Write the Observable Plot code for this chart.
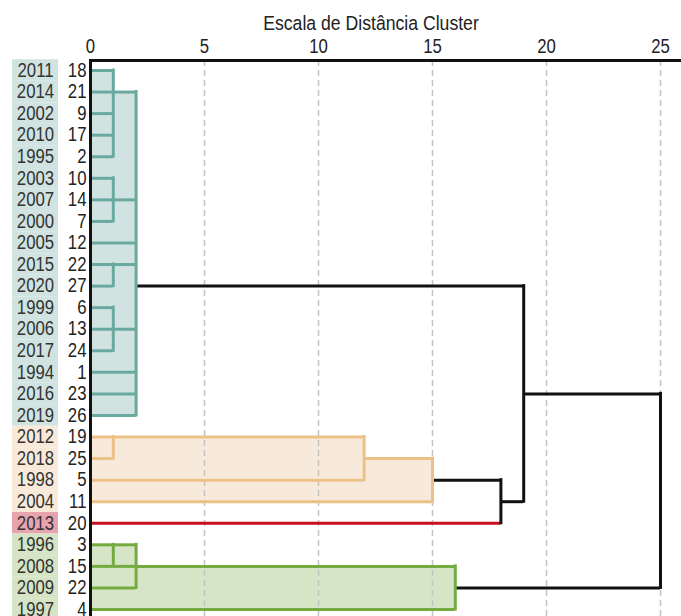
<!DOCTYPE html>
<html><head><meta charset="utf-8">
<script src="https://cdn.jsdelivr.net/npm/d3@7"></script>
<script src="https://cdn.jsdelivr.net/npm/@observablehq/plot@0.6"></script>
<style>
body{margin:0;background:#fff;}
#wrap{position:relative;width:681px;height:616px;display:flex;overflow:hidden;font-family:"Liberation Sans",Arial,sans-serif;}
#title{position:absolute;top:11px;left:0;width:742px;text-align:center;font-size:20.5px;color:#222;transform:scaleX(0.86);transform-origin:371px 50%;}
svg{display:block;}
</style></head><body>
<div id="wrap"><div id="title">Escala de Distância Cluster</div></div>
<script>
// Leaves (top to bottom)
const years = ["2011","2014","2002","2010","1995","2003","2007","2000","2005","2015","2020","1999","2006","2017","1994","2016","2019","2012","2018","1998","2004","2013","1996","2008","2009","1997"];
const caseNums = [18,21,9,17,2,10,14,7,12,22,27,6,13,24,1,23,26,19,25,5,11,20,3,15,22,4];
const groups = ["t","t","t","t","t","t","t","t","t","t","t","t","t","t","t","t","t","o","o","o","o","r","g","g","g","g"];
const tickValues = [0,5,10,15,20,25];

// Merges: distance, group, children as [row year, distance the child line starts from]
const mergeDist  = [1,1,1,1,2, 1,12,15, 18, 1,2,16, 19, 25];
const mergeGroup = ["t","t","t","t","t","o","o","o","k","g","g","g","k","k"];
const mergeChildren = [
  [["2011",0],["2014",0],["2002",0],["2010",0],["1995",0]],
  [["2003",0],["2007",0],["2000",0]],
  [["2015",0],["2020",0]],
  [["1999",0],["2006",0],["2017",0]],
  [["2014",1],["2007",1],["2005",0],["2015",1],["2006",1],["1994",0],["2016",0],["2019",0]],
  [["2012",0],["2018",0]],
  [["2012",1],["1998",0]],
  [["2018",12],["2004",0]],
  [["1998",15],["2013",0]],
  [["1996",0],["2008",0]],
  [["1996",1],["2008",1],["2009",0]],
  [["2008",2],["1997",0]],
  [["2020",2],["2004",18]],
  [["2016",19],["2009",16]]
];

const lineColor = {t:"#6aa99f", o:"#ecc188", g:"#74ab41", r:"#c80f1e", k:"#111"};
const fillColor = {t:"#d0e3e0", o:"#f8eadb", g:"#d6e5c6"};
const labelBg   = {t:"#d0e3e0", o:"#f8e9d9", r:"#e7a4ae", g:"#d5e4c4"};

const rowIndex = new Map(years.map((y, i) => [y, i]));
const rows = years.map((y, i) => ({year: y, num: caseNums[i], group: groups[i], i}));
const merges = mergeDist.map((d, k) => {
  const r = mergeChildren[k].map(([y]) => rowIndex.get(y));
  return {d, group: mergeGroup[k], top: d3.min(r), bottom: d3.max(r)};
});
const hSegs = mergeChildren.flatMap((ch, k) => ch.map(([y, from]) => {
  const i = rowIndex.get(y);
  const g = mergeGroup[k] !== "k" ? mergeGroup[k] : (from === 0 ? groups[i] : "k");
  return {y: i, x1: from, x2: mergeDist[k], group: g};
}));

const yScale = {domain: [0, years.length - 1], reverse: true, insetTop: 10, insetBottom: 7, axis: null};
const font = '"Liberation Sans",Arial,sans-serif';

const left = Plot.plot({
  width: 58, height: 616, marginLeft: 12, marginRight: 0, marginTop: 60, marginBottom: 0,
  style: {fontFamily: font, background: "transparent"},
  x: {type: "band", domain: ["year"], padding: 0, axis: null},
  y: yScale,
  color: {type: "identity"},
  marks: [
    Plot.barY(rows, {x: () => "year", y1: d => d.i - 0.5, y2: d => d.i + 0.5, fill: d => labelBg[d.group]}),
    Plot.text(rows, {x: () => "year", y: "i", text: "year", fontSize: 19.5, fill: "#333"})
  ]
});

const main = Plot.plot({
  width: 623, height: 616, marginLeft: 32, marginRight: 0, marginTop: 60, marginBottom: 0,
  style: {fontFamily: font, fontSize: "19px", color: "#222", background: "transparent"},
  x: {domain: [0, 25], insetRight: 21, axis: null},
  y: yScale,
  color: {type: "identity"},
  marks: [
    Plot.rect(merges.filter(m => m.group !== "k"), {x1: 0, x2: "d", y1: "top", y2: "bottom", fill: d => fillColor[d.group]}),
    Plot.ruleX(tickValues.filter(v => v > 0), {stroke: "#c4c4c4", strokeWidth: 1.5, strokeDasharray: "6,4"}),
    Plot.ruleY(hSegs, {y: "y", x1: "x1", x2: "x2", stroke: d => lineColor[d.group], strokeWidth: 3}),
    Plot.ruleX(merges, {x: "d", y1: "top", y2: "bottom", stroke: d => lineColor[d.group], strokeWidth: 3, strokeLinecap: "square"}),
    Plot.frame({stroke: "#111", strokeWidth: 3, insetRight: -6, insetBottom: -6}),
    Plot.axisX(tickValues, {anchor: "top", tickSize: 0, tickPadding: 8, fontSize: 19.5, label: null}),
    Plot.axisY(rows.map(d => d.i), {anchor: "left", tickSize: 0, tickPadding: 4, fontSize: 19.5, label: null, tickFormat: i => caseNums[i]})
  ]
});

// Narrow the glyphs (the reference uses a condensed sans face)
for (const svg of [left, main]) {
  for (const t of svg.querySelectorAll("text")) {
    t.setAttribute("transform", (t.getAttribute("transform") || "") + " scale(0.86,1)");
  }
}

document.getElementById("wrap").append(left, main);
</script>
</body></html>
